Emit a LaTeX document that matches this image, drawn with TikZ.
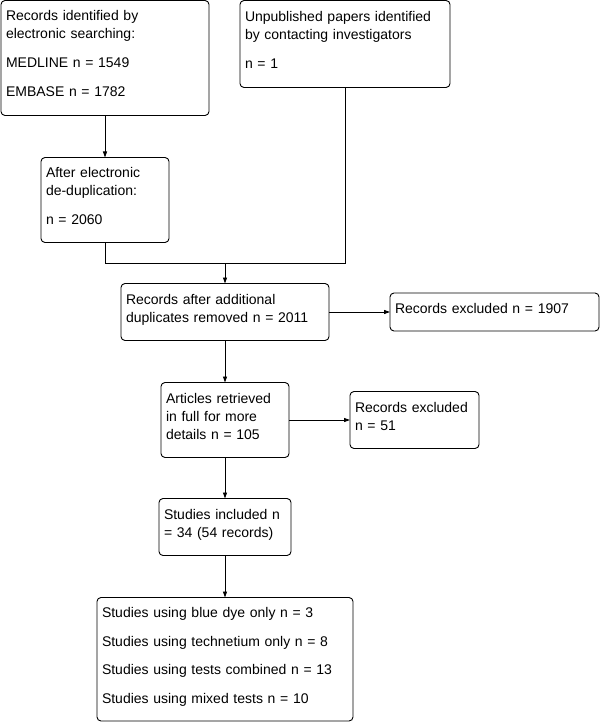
\documentclass[tikz,border=0pt]{standalone}
\usepackage{fontspec}
\setmainfont{Liberation Sans}
\usetikzlibrary{arrows.meta,positioning,calc}
\setlength{\parindent}{0pt}

\begin{document}
\begin{tikzpicture}[
  x=1pt, y=1pt,
  node distance=42pt,
  box/.style={draw, rounded corners=4pt, inner xsep=5pt, inner ysep=0pt, outer sep=0pt,
    align=left, font=\fontsize{14}{18}\selectfont,
    execute at begin node={\rule{0pt}{20pt}},
    execute at end node={\rule[-18pt]{0pt}{18pt}}},
  >={Triangle[length=6pt,width=4pt]}, line width=0.9pt]
\useasboundingbox (0,0) rectangle (602,-722);
\node[box, text width=198pt, minimum height=115pt, anchor=north west] (search) at (1,-0.5)
  {Records identified by\\electronic searching:\\[11pt]MEDLINE n = 1549\\[11pt]EMBASE n = 1782};
\node[box, text width=200pt, minimum height=87pt, right=31pt of search.north east, anchor=north west] (unpub)
  {Unpublished papers identified\\by contacting investigators\\[11pt]n = 1};
\node[box, text width=118pt, minimum height=85pt, below=42pt of search] (dedup)
  {After electronic\\de-duplication:\\[11pt]n = 2060};
\node[box, text width=198pt, minimum height=57pt, below=41pt of dedup, xshift=120pt] (after)
  {Records after additional\\duplicates removed n = 2011};
\node[box, text width=199pt, minimum height=38pt, right=61pt of after] (excl1) {Records excluded n = 1907};
\node[box, text width=118pt, minimum height=75pt, below=42pt of after] (full)
  {Articles retrieved\\in full for more\\details n = 105};
\node[box, text width=119pt, minimum height=57pt, right=61pt of full] (excl2) {Records excluded\\n = 51};
\node[box, text width=122pt, minimum height=57pt, below=41pt of full] (incl) {Studies included n\\= 34 (54 records)};
\node[box, text width=246pt, below=42pt of incl] (tests)
  {Studies using blue dye only n = 3\\[10.5pt]Studies using technetium only n = 8\\[10.5pt]Studies using tests combined n = 13\\[10.5pt]Studies using mixed tests n = 10};
% merge of the two sources
\coordinate (join) at ($(after.north)+(0,20pt)$);
\draw[->] (search) -- (dedup);
\draw (dedup.south) |- (join) -| (unpub.south);
\draw[->] (join) -- (after);
\draw[->] (after) -- (excl1);
\draw[->] (after) -- (full);
\draw[->] (full) -- (excl2);
\draw[->] (full) -- (incl);
\draw[->] (incl) -- (tests);
\end{tikzpicture}
\end{document}
